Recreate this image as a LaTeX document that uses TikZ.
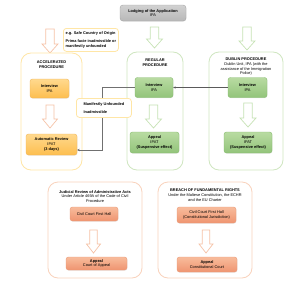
\documentclass[tikz,border=0pt]{standalone}
\usepackage{fontspec}
\setmainfont{Liberation Sans}
\usetikzlibrary{shadows,arrows.meta}
\definecolor{ortop}{HTML}{FFD98E}
\definecolor{orbot}{HTML}{FDBE4F}
\definecolor{orline}{HTML}{F2B75A}
\definecolor{grtop}{HTML}{B9DBA2}
\definecolor{grbot}{HTML}{92C47A}
\definecolor{grline}{HTML}{86BC6E}
\definecolor{satop}{HTML}{F8BC9C}
\definecolor{sabot}{HTML}{EF9470}
\definecolor{saline}{HTML}{EA9A78}
\definecolor{ycont}{HTML}{FFE6A6}
\definecolor{gcont}{HTML}{CFE6C0}
\definecolor{scont}{HTML}{F9D2BC}
\definecolor{sarrow}{HTML}{F6C2A6}
\definecolor{garrow}{HTML}{C6E2B4}
\definecolor{conn}{HTML}{707070}
\newcommand{\harrow}[5]{% cx, ytop, ybot, headhalf, color
  \draw[#5, line width=0.7pt, fill=white, line join=miter]
    (#1-#4*0.53,#2) -- (#1+#4*0.53,#2) -- (#1+#4*0.53,#3-9) -- (#1+#4,#3-9)
    -- (#1,#3) -- (#1-#4,#3-9) -- (#1-#4*0.53,#3-9) -- cycle;}
\begin{document}
\begin{tikzpicture}[x=1pt,y=-1pt,
  every node/.style={font=\fontsize{3.9}{4.6}\selectfont, align=center, inner sep=0.5pt},
  cont/.style={draw, line width=0.8pt, rounded corners=10pt, fill=white},
  orbox/.style={draw=orline, line width=0.4pt, rounded corners=2.5pt, top color=ortop, bottom color=orbot,
     drop shadow={opacity=0.18, shadow xshift=0.4pt, shadow yshift=-0.6pt}},
  grbox/.style={draw=grline, line width=0.4pt, rounded corners=2.5pt, top color=grtop, bottom color=grbot,
     drop shadow={opacity=0.18, shadow xshift=0.4pt, shadow yshift=-0.6pt}},
  sabox/.style={draw=saline, line width=0.4pt, rounded corners=2.5pt, top color=satop, bottom color=sabot,
     drop shadow={opacity=0.18, shadow xshift=0.4pt, shadow yshift=-0.6pt}},
  notebox/.style={draw=ycont, line width=0.8pt, rounded corners=3pt, fill=white, align=left, inner sep=2pt},
]
\useasboundingbox (0,0) rectangle (300,284);

% top box
\node[draw=black!35, line width=0.4pt, rounded corners=3pt, top color=black!18, bottom color=black!28,
  drop shadow={opacity=0.2, shadow xshift=0.4pt, shadow yshift=-0.6pt},
  minimum width=66pt, minimum height=16pt] (lodge) at (153,13) {\textbf{Lodging of the Application}\\IPA};

% top arrows
\harrow{50}{29}{53}{8}{sarrow}
\harrow{154.5}{27}{48}{8}{garrow}
\harrow{247}{27}{50}{8}{garrow}

% note box
\node[notebox, minimum width=55pt, minimum height=23pt, anchor=north west] (note) at (63,28)
  {\textbf{e.g. Safe Country of Origin}\\[3pt]\textbf{Prima facie inadmissible or}\\\textbf{manifestly unfounded}};

% containers
\node[cont, draw=ycont, minimum width=61pt, minimum height=117pt] (accel) at (51.5,111.5) {};
\node[cont, draw=gcont, minimum width=56pt, minimum height=118pt] (reg) at (155,111) {};
\node[cont, draw=gcont, minimum width=74pt, minimum height=118pt] (dub) at (246,111) {};
\node[cont, draw=scont, minimum width=94pt, minimum height=96pt] (jud) at (95,230) {};
\node[cont, draw=scont, minimum width=94pt, minimum height=96pt] (brf) at (205,230) {};

% titles
\node[anchor=north] (accelt) at (51.5,60) {\textbf{ACCELERATED}\\\textbf{PROCEDURE}};
\node[anchor=north] (regt) at (155,58) {\textbf{REGULAR}\\\textbf{PROCEDURE}};
\node[anchor=north] (dubt) at (246,57.5) {\textbf{DUBLIN PROCEDURE}\\Dublin Unit, IPA (with the\\assistance of the Immigration\\Police)};
\node[anchor=north] (judt) at (95,189.5) {\textbf{Judicial Review of Administrative Acts}\\Under Article 469A of the Code of Civil\\Procedure};
\node[anchor=north] (brft) at (205,188.5) {\textbf{BREACH OF FUNDAMENTAL RIGHTS}\\Under the Maltese Constitution, the ECHR\\and the EU Charter};

% accelerated
\node[orbox, minimum width=39pt, minimum height=19pt] (aint) at (49.5,88.5) {\textbf{Interview}\\IPA};
\harrow{50}{105}{128}{7.5}{sarrow}
\node[orbox, minimum width=51pt, minimum height=21pt] (arev) at (51.5,144.5) {\textbf{Automatic Review}\\IPAT\\\textbf{(3 days)}};

% regular
\node[grbox, minimum width=38pt, minimum height=20pt] (rint) at (154,87.5) {\textbf{Interview}\\IPA};
\harrow{153.5}{105}{128}{8}{garrow}
\node[grbox, minimum width=49pt, minimum height=21pt] (rapp) at (154.5,142.5) {\textbf{Appeal}\\IPAT\\\textbf{(Suspensive effect)}};

% dublin
\node[grbox, minimum width=39pt, minimum height=20pt] (dint) at (247.5,87.5) {\textbf{Interview}\\IPA};
\harrow{248}{103}{127}{8}{garrow}
\node[grbox, minimum width=48pt, minimum height=21pt] (dapp) at (248,142.5) {\textbf{Appeal}\\IPAT\\\textbf{(Suspensive effect)}};

% connectors
\coordinate (bend) at (102,150);
\draw[conn, line width=0.9pt, -{Stealth[length=2.5pt,width=2.5pt]}]
  (rint.west) -- (rint.west -| bend) -- (bend) -- (bend -| arev.east);
\draw[conn!80!black, line width=0.4pt, -{Stealth[length=2.5pt,width=2.2pt]}] (dint.west) -- (rint.east);

% manifestly box
\node[notebox, minimum width=55pt, minimum height=19pt, anchor=north west] (manif) at (76,98)
  {\textbf{Manifestly Unfounded}\\[3.5pt]\textbf{Inadmissible}};

% judicial review
\node[sabox, minimum width=48pt, minimum height=14pt] (cc1) at (94,214) {Civil Court First Hall};
\harrow{93.5}{230}{253}{7}{sarrow}
\node[sabox, minimum width=61pt, minimum height=13pt] (ca) at (96.5,263.5) {\textbf{Appeal}\\Court of Appeal};

% breach
\node[sabox, minimum width=59pt, minimum height=16pt] (cc2) at (206.5,215) {Civil Court First Hall\\(Constitutional Jurisdiction)};
\harrow{206}{230}{253}{7}{sarrow}
\node[sabox, minimum width=60pt, minimum height=15pt] (cca) at (207,264.5) {\textbf{Appeal}\\Constitutional Court};
\end{tikzpicture}
\end{document}
